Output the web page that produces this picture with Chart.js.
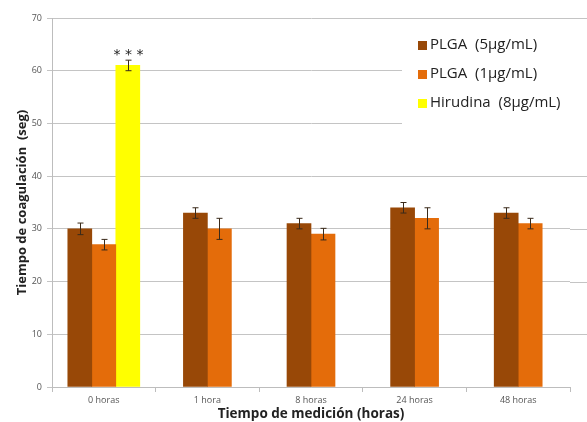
<!DOCTYPE html>
<html>
<head>
<meta charset="utf-8">
<script src="https://cdn.jsdelivr.net/npm/chart.js@4/dist/chart.umd.min.js"></script>
<style>
  html, body { margin: 0; padding: 0; background: #fff; }
  #wrap { width: 587px; height: 422px; }
</style>
</head>
<body>
<div id="wrap"><canvas id="coagChart" width="587" height="422"></canvas></div>
<script>
// datos
var categories = ['0 horas', '1 hora', '8 horas', '24 horas', '48 horas'];
var plga5 = [30, 33, 31, 34, 33];
var plga5Err = [1.1, 1, 1, 1, 1];
var plga1 = [27, 30, 29, 32, 31];
var plga1Err = [1, 2, 1.1, 2, 1];
var hirudina = [61, null, null, null, null];
var hirudinaErr = [1, null, null, null, null];
var yTicks = [0, 10, 20, 30, 40, 50, 60, 70];

var errors = [plga5Err, plga1Err, hirudinaErr];

var errorBars = {
    id: 'errorBars',
    afterDatasetsDraw: function(chart) {
        var ctx = chart.ctx;
        var y = chart.scales.y;
        ctx.save();
        ctx.strokeStyle = '#3a2a1a';
        ctx.lineWidth = 1;
        chart.data.datasets.forEach(function(ds, i) {
            var meta = chart.getDatasetMeta(i);
            meta.data.forEach(function(bar, j) {
                var v = ds.data[j], e = errors[i][j];
                if (v == null || e == null) return;
                var x = Math.round(bar.x) + 0.5;
                var top = y.getPixelForValue(v + e);
                var bot = y.getPixelForValue(v - e);
                ctx.beginPath();
                ctx.moveTo(x, top); ctx.lineTo(x, bot);
                ctx.moveTo(x - 3, top); ctx.lineTo(x + 3, top);
                ctx.moveTo(x - 3, bot); ctx.lineTo(x + 3, bot);
                ctx.stroke();
                if (i === 2) {
                    ctx.fillStyle = '#222';
                    ctx.font = '14px "DejaVu Sans"';
                    ctx.textAlign = 'center';
                    ctx.textBaseline = 'bottom';
                    ctx.fillText('* * *', x, top + 2);
                }
            });
        });
        ctx.restore();
    }
};

var extras = {
    id: 'extras',
    beforeDatasetsDraw: function(chart) {
        // las lineas de la cuadricula siguen hasta el borde derecho
        var ctx = chart.ctx, a = chart.chartArea, y = chart.scales.y;
        ctx.save();
        ctx.strokeStyle = '#c4c4c4';
        ctx.lineWidth = 1;
        yTicks.forEach(function(t) {
            if (t === 0) return;
            var py = Math.round(y.getPixelForValue(t)) + 0.5;
            ctx.beginPath();
            ctx.moveTo(a.right, py); ctx.lineTo(chart.width, py);
            ctx.stroke();
        });
        ctx.restore();
    },
    afterDraw: function(chart) {
        var ctx = chart.ctx;
        ctx.save();
        ctx.fillStyle = '#fff';
        ctx.fillRect(402, 24, 185, 106);
        var rows = [45, 74, 103];
        ctx.font = '15px "Open Sans"';
        ctx.textBaseline = 'middle';
        ctx.textAlign = 'left';
        chart.data.datasets.forEach(function(ds, i) {
            ctx.fillStyle = ds.backgroundColor;
            ctx.fillRect(418, rows[i] - 4, 9, 9);
            ctx.fillStyle = '#222';
            ctx.fillText(ds.label, 430, rows[i]);
        });
        ctx.restore();
    }
};

new Chart(document.getElementById('coagChart'), {
    type: 'bar',
    data: {
        labels: categories,
        datasets: [
            { label: 'PLGA  (5µg/mL)', data: plga5, backgroundColor: '#984807' },
            { label: 'PLGA  (1µg/mL)', data: plga1, backgroundColor: '#e46c0a' },
            { label: 'Hirudina  (8µg/mL)', data: hirudina, backgroundColor: '#ffff00' }
        ]
    },
    options: {
        responsive: false,
        animation: false,
        layout: { padding: { top: 18, right: 17, left: 0, bottom: 0 } },
        datasets: { bar: { skipNull: true, barThickness: 24 } },
        plugins: {
            legend: { display: false },
            tooltip: { enabled: false }
        },
        scales: {
            x: {
                grid: { drawOnChartArea: false, drawTicks: true, tickLength: 5, color: '#bdbdbd' },
                border: { color: '#bdbdbd' },
                ticks: { color: '#555', font: { family: 'Open Sans', size: 9 }, padding: 3 },
                title: {
                    display: true,
                    text: 'Tiempo de medición (horas)',
                    color: '#222',
                    font: { family: 'Open Sans', size: 13.5, weight: 'bold' },
                    padding: { top: 0, bottom: 0 }
                },
                afterFit: function(s) { s.height = 35; }
            },
            y: {
                min: 0,
                max: 70,
                afterBuildTicks: function(s) { s.ticks = yTicks.map(function(v) { return { value: v }; }); },
                grid: { color: '#c4c4c4', tickLength: 5 },
                border: { color: '#bdbdbd' },
                ticks: { color: '#555', font: { family: 'Open Sans', size: 9 }, padding: 5 },
                title: {
                    display: true,
                    text: 'Tiempo de coagulación  (seg)',
                    color: '#222',
                    font: { family: 'Open Sans', size: 13, weight: 'bold' },
                    padding: { top: 14, bottom: 0 }
                },
                afterFit: function(s) { s.width = 52; }
            }
        }
    },
    plugins: [extras, errorBars]
});
</script>
</body>
</html>
